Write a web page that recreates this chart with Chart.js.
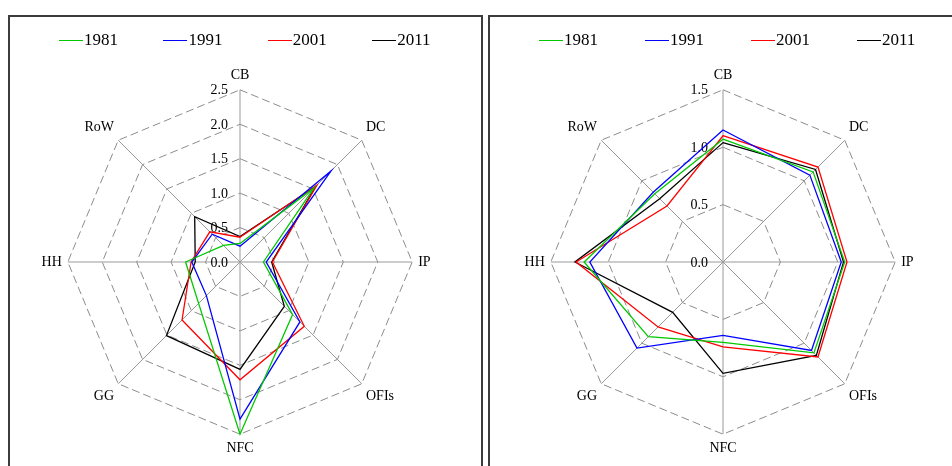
<!DOCTYPE html>
<html>
<head>
<meta charset="utf-8">
<script src="https://cdn.jsdelivr.net/npm/chart.js@4.4.1/dist/chart.umd.min.js"></script>
<style>
  html, body { margin: 0; padding: 0; background: #fff; width: 952px; height: 466px; overflow: hidden; position: relative; }
  .panel { position: absolute; top: 15px; height: 540px; box-sizing: border-box; border: 2px solid #3c3c3c; }
  canvas.radar { position: absolute; top: 16px; }
  .legend { position: absolute; top: 30px; height: 20px; font-family: 'Liberation Serif', 'Times New Roman', serif; font-size: 17px; color: #000; }
  .legend .item { position: absolute; top: 0; display: flex; align-items: center; white-space: nowrap; line-height: 20px; }
  .legend .swatch { display: inline-block; width: 24px; height: 0; border-top: 1.3px solid; margin-right: 1px; }
</style>
</head>
<body>
<div class="panel" style="left:8px; width:475px;"></div>
<div class="panel" style="left:488px; width:475px;"></div>
<canvas id="left" class="radar" width="472" height="500" style="left:9px;"></canvas>
<canvas id="right" class="radar" width="472" height="500" style="left:490px;"></canvas>
<div id="legendLeft" class="legend" style="left:9px;"></div>
<div id="legendRight" class="legend" style="left:490px;"></div>
<script>
// Sectors, clockwise from the top
const sectors = ['CB', 'DC', 'IP', 'OFIs', 'NFC', 'GG', 'HH', 'RoW'];
const years = ['1981', '1991', '2001', '2011'];
const yearColors = ['#00c800', '#0000ff', '#ff0000', '#000000'];

// Left panel
const left1981 = [0.27, 1.52, 0.34, 1.08, 2.50, 0.85, 0.79, 0.34];
const left1991 = [0.23, 1.87, 0.38, 1.23, 2.28, 0.69, 0.70, 0.57];
const left2001 = [0.36, 1.58, 0.47, 1.32, 1.71, 1.19, 0.71, 0.62];
const left2011 = [0.37, 1.55, 0.46, 0.91, 1.56, 1.51, 0.65, 0.93];
const leftTicks = [0.0, 0.5, 1.0, 1.5, 2.0, 2.5];

// Right panel
const right1981 = [1.07, 1.11, 1.06, 1.12, 0.70, 0.92, 1.21, 0.84];
const right1991 = [1.15, 1.07, 1.03, 1.09, 0.64, 1.06, 1.16, 0.86];
const right2001 = [1.10, 1.17, 1.08, 1.17, 0.74, 0.80, 1.28, 0.69];
const right2011 = [1.04, 1.14, 1.05, 1.15, 0.97, 0.62, 1.29, 0.78];
const rightTicks = [0.0, 0.5, 1.0, 1.5];

const serif = "'Liberation Serif', 'Times New Roman', serif";
Chart.defaults.font.family = serif;
Chart.defaults.color = '#000';

// Value labels placed just left of the vertical (CB) spoke, including 0.0
const tickLabels = {
  id: 'tickLabels',
  beforeDatasetsDraw(chart, args, opts) {
    const scale = chart.scales.r;
    const ctx = chart.ctx;
    ctx.save();
    ctx.font = '14px ' + serif;
    ctx.fillStyle = '#000';
    ctx.textAlign = 'right';
    ctx.textBaseline = 'middle';
    opts.values.forEach(v => {
      const p = scale.getPointPositionForValue(0, v);
      ctx.fillText(v.toFixed(1), p.x - opts.offset, p.y + 1);
    });
    ctx.restore();
  }
};

function makeRadar(id, series, ticks, pad, offset) {
  return new Chart(document.getElementById(id), {
    type: 'radar',
    data: {
      labels: sectors,
      datasets: series.map((vals, i) => ({
        label: years[i],
        data: vals,
        borderColor: yearColors[i],
        backgroundColor: yearColors[i],
        borderWidth: 1.3,
        fill: false,
        tension: 0,
        pointRadius: 0,
        pointHoverRadius: 0
      }))
    },
    options: {
      responsive: false,
      animation: false,
      devicePixelRatio: 1,
      layout: { padding: pad },
      plugins: {
        legend: { display: false },
        tooltip: { enabled: false },
        tickLabels: { values: ticks, offset: offset }
      },
      scales: {
        r: {
          min: ticks[0],
          max: ticks[ticks.length - 1],
          ticks: { stepSize: ticks[1] - ticks[0], display: false },
          grid: { color: '#8c8c8c', lineWidth: 1 },
          border: { dash: [8, 4] },
          angleLines: { color: '#999999', lineWidth: 1 },
          pointLabels: { font: { size: 14, family: serif }, color: '#000', padding: 6 }
        }
      }
    },
    plugins: [tickLabels]
  });
}

makeRadar('left', [left1981, left1991, left2001, left2011], leftTicks,
  { left: 5, right: 15, top: 52, bottom: 58 }, 12);
makeRadar('right', [right1981, right1991, right2001, right2011], rightTicks,
  { left: 7, right: 13, top: 52, bottom: 58 }, 15);

function buildLegend(id, start, step) {
  const box = document.getElementById(id);
  years.forEach((y, i) => {
    const item = document.createElement('div');
    item.className = 'item';
    item.style.left = (start + i * step) + 'px';
    const sw = document.createElement('span');
    sw.className = 'swatch';
    sw.style.borderTopColor = yearColors[i];
    const tx = document.createElement('span');
    tx.textContent = y;
    item.appendChild(sw);
    item.appendChild(tx);
    box.appendChild(item);
  });
}
buildLegend('legendLeft', 50, 104.4);
buildLegend('legendRight', 49, 106);
</script>
</body>
</html>
